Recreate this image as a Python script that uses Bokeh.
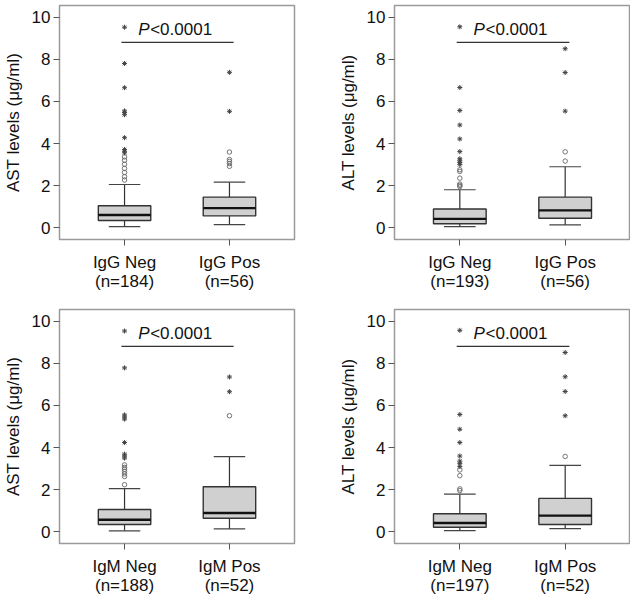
from bokeh.plotting import figure
from bokeh.layouts import row, column
from bokeh.models import FixedTicker, Range1d, ColumnDataSource
from bokeh.embed import file_html
from bokeh.resources import INLINE
from bokeh.core.properties import value

FONT = "Liberation Sans"

# ---------------- data ----------------
p1_ylabel = "AST levels (μg/ml)"
p1_groups = ["IgG Neg\n(n=184)", "IgG Pos\n(n=56)"]
p1_q1 = [0.35, 0.57]
p1_med = [0.61, 0.94]
p1_q3 = [1.05, 1.46]
p1_wlo = [0.06, 0.16]
p1_whi = [2.06, 2.17]
p1_circ = [[2.27, 2.43, 2.63, 2.82, 3.02, 3.21, 3.37], [2.92, 3.05, 3.15, 3.24, 3.60]]
p1_star = [[3.56, 3.64, 3.72, 4.28, 5.37, 5.47, 5.55, 6.65, 7.80, 9.52], [5.53, 7.38]]

p2_ylabel = "ALT levels (μg/ml)"
p2_groups = ["IgG Neg\n(n=193)", "IgG Pos\n(n=56)"]
p2_q1 = [0.20, 0.46]
p2_med = [0.43, 0.83]
p2_q3 = [0.90, 1.46]
p2_wlo = [0.06, 0.14]
p2_whi = [1.81, 2.90]
p2_circ = [[1.96, 2.02, 2.08, 2.36, 2.68, 2.76], [3.17, 3.61]]
p2_star = [[3.00, 3.10, 3.18, 3.28, 3.62, 4.22, 4.88, 5.57, 6.66, 9.54], [5.54, 7.37, 8.50]]

p3_ylabel = "AST levels (μg/ml)"
p3_groups = ["IgM Neg\n(n=188)", "IgM Pos\n(n=52)"]
p3_q1 = [0.35, 0.65]
p3_med = [0.58, 0.90]
p3_q3 = [1.06, 2.14]
p3_wlo = [0.05, 0.14]
p3_whi = [2.05, 3.57]
p3_circ = [[2.24, 2.63, 2.75, 2.87, 2.97, 3.06, 3.18], [5.51]]
p3_star = [[3.50, 3.60, 3.69, 4.24, 5.35, 5.45, 5.55, 7.78, 9.53], [6.65, 7.35]]

p4_ylabel = "ALT levels (μg/ml)"
p4_groups = ["IgM Neg\n(n=197)", "IgM Pos\n(n=52)"]
p4_q1 = [0.22, 0.35]
p4_med = [0.42, 0.77]
p4_q3 = [0.86, 1.59]
p4_wlo = [0.06, 0.16]
p4_whi = [1.79, 3.16]
p4_circ = [[1.96, 2.04, 2.67, 2.94], [3.58]]
p4_star = [[3.10, 3.25, 3.36, 3.60, 4.24, 4.87, 5.57, 9.56], [5.51, 6.66, 7.36, 8.51]]

sig_text_p = "P"
sig_text_rest = "<0.0001"
sig_bar_y = 8.8
sig_text_y = 9.4
y_ticks = [0, 2, 4, 6, 8, 10]


def make_panel(ylabel, groups, q1, med, q3, wlo, whi, circ, star,
               mb_left, mb_right, mb_top, mb_bottom, fw=235):
    p = figure(frame_width=fw, frame_height=234,
               x_range=Range1d(0.38, 2.62), y_range=Range1d(-0.55, 10.55),
               output_backend="svg", toolbar_location=None,
               min_border_left=mb_left, min_border_right=mb_right,
               min_border_top=mb_top, min_border_bottom=mb_bottom)
    p.background_fill_color = "white"
    p.border_fill_color = "white"
    p.outline_line_color = "#9a9a9a"
    p.outline_line_width = 1.5
    p.xgrid.visible = False
    p.ygrid.visible = False

    xs = [i + 1 for i in range(len(groups))]
    src = ColumnDataSource(dict(
        x=xs, q1=q1, med=med, q3=q3, wlo=wlo, whi=whi,
        xl=[x - 0.25 for x in xs], xr=[x + 0.25 for x in xs],
        cl=[x - 0.15 for x in xs], cr=[x + 0.15 for x in xs]))

    # whiskers
    p.segment(x0="x", y0="q3", x1="x", y1="whi", source=src, line_color="#333333", line_width=1.2)
    p.segment(x0="x", y0="q1", x1="x", y1="wlo", source=src, line_color="#333333", line_width=1.2)
    p.segment(x0="cl", y0="whi", x1="cr", y1="whi", source=src, line_color="#444444", line_width=1.2)
    p.segment(x0="cl", y0="wlo", x1="cr", y1="wlo", source=src, line_color="#444444", line_width=1.2)
    # boxes
    p.vbar(x="x", width=0.5, bottom="q1", top="q3", source=src,
           fill_color="#d0d0d0", line_color="#333333", line_width=1.4)
    p.segment(x0="xl", y0="med", x1="xr", y1="med", source=src, line_color="#111111", line_width=2.4)

    # outliers
    cx, cy, sx, sy = [], [], [], []
    for i, x in enumerate(xs):
        cx += [x] * len(circ[i]); cy += circ[i]
        sx += [x] * len(star[i]); sy += star[i]
    p.scatter(cx, cy, marker="circle", size=4.5, fill_color=None, line_color="#666666", line_width=0.9)
    p.scatter(sx, sy, marker="asterisk", size=5, line_color="#444444", line_width=1.0)

    # significance
    p.segment(x0=[0.97], y0=[sig_bar_y], x1=[2.04], y1=[sig_bar_y], line_color="#333333", line_width=1.4)
    p.text(x=[1.13], y=[sig_text_y], text=[sig_text_p], text_font=value(FONT),
           text_font_size="17px", text_font_style="italic", text_color="#111111",
           text_align="left", text_baseline="alphabetic")
    p.text(x=[1.13], y=[sig_text_y], text=[sig_text_rest], text_font=value(FONT),
           text_font_size="17px", text_color="#111111", x_offset=12,
           text_align="left", text_baseline="alphabetic")

    # axes
    for ax in (p.xaxis[0], p.yaxis[0]):
        ax.axis_line_color = None
        ax.major_tick_in = 0
        ax.major_tick_out = 6
        ax.major_tick_line_color = "#555555"
        ax.minor_tick_line_color = None
        ax.major_label_text_font = FONT
        ax.major_label_text_font_size = "17px"
        ax.major_label_text_color = "#111111"
    p.xaxis.ticker = FixedTicker(ticks=xs)
    p.xaxis.major_label_overrides = {x: g for x, g in zip(xs, groups)}
    p.xaxis.major_label_standoff = 7
    p.xaxis.major_label_text_line_height = 1.0
    p.yaxis.ticker = FixedTicker(ticks=y_ticks)
    p.yaxis.major_label_standoff = 3
    p.yaxis.axis_label = ylabel
    p.yaxis.axis_label_text_font = FONT
    p.yaxis.axis_label_text_font_size = "17px"
    p.yaxis.axis_label_text_font_style = "normal"
    p.yaxis.axis_label_text_color = "#111111"
    p.yaxis.axis_label_standoff = 6
    return p


f1 = make_panel(p1_ylabel, p1_groups, p1_q1, p1_med, p1_q3, p1_wlo, p1_whi, p1_circ, p1_star, 55, 41, 5, 56)
f2 = make_panel(p2_ylabel, p2_groups, p2_q1, p2_med, p2_q3, p2_wlo, p2_whi, p2_circ, p2_star, 56, 0, 5, 56, fw=236)
f3 = make_panel(p3_ylabel, p3_groups, p3_q1, p3_med, p3_q3, p3_wlo, p3_whi, p3_circ, p3_star, 55, 41, 14, 47)
f4 = make_panel(p4_ylabel, p4_groups, p4_q1, p4_med, p4_q3, p4_wlo, p4_whi, p4_circ, p4_star, 56, 0, 14, 47, fw=236)

layout = column(row(f1, f2), row(f3, f4))

open("out.html", "w").write(file_html(layout, INLINE))
